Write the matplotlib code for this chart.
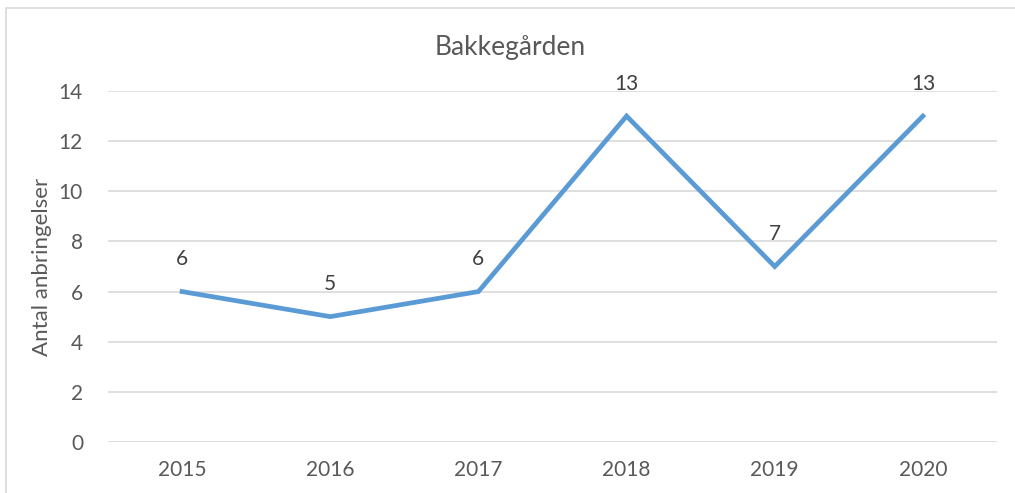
import matplotlib
matplotlib.use("Agg")
import matplotlib.pyplot as plt
from matplotlib.patches import Rectangle

years = ["2015", "2016", "2017", "2018", "2019", "2020"]
values = [6, 5, 6, 13, 7, 13]
title = "Bakkegården"
ylabel = "Antal anbringelser"

plt.rcParams['font.family'] = ['Lato', 'DejaVu Sans']
txt = "#595959"
W, H = 1015, 493
fig = plt.figure(figsize=(W / 100, H / 100), dpi=100)
fig.patches.append(Rectangle((6 / W, -0.1), 1.2, 1 - 8 / H + 0.1, transform=fig.transFigure,
                             fill=False, edgecolor="#D9D9D9", linewidth=1.2))
ax = fig.add_axes([108 / W, 1 - 442 / H, (997 - 108) / W, (442 - 91) / H])
x = list(range(len(years)))
ax.plot(x, values, color="#5B9BD5", linewidth=3.4, solid_joinstyle="miter", zorder=3)
for xi, v in zip(x, values):
    ax.annotate(str(v), (xi, v), xytext=(0, 16), textcoords="offset points",
                ha="center", va="bottom", fontsize=15, color="#404040")
ax.set_xlim(-0.5, len(years) - 0.5)
ax.set_ylim(0, 14)
ax.set_yticks(range(0, 15, 2))
ax.set_xticks(x)
ax.set_xticklabels(years)
ax.grid(axis="y", color="#D9D9D9", linewidth=1.2)
ax.set_axisbelow(True)
for s in ax.spines.values():
    s.set_visible(False)
ax.tick_params(axis="both", length=0, labelsize=15, labelcolor=txt)
ax.tick_params(axis="y", pad=18)
ax.tick_params(axis="x", pad=13)
ax.set_ylabel(ylabel, fontsize=16, color=txt, labelpad=5)
fig.text(510 / W, 1 - 47 / H, title, ha="center", va="center", fontsize=19, color=txt)
fig.savefig("out.png", dpi=100)
